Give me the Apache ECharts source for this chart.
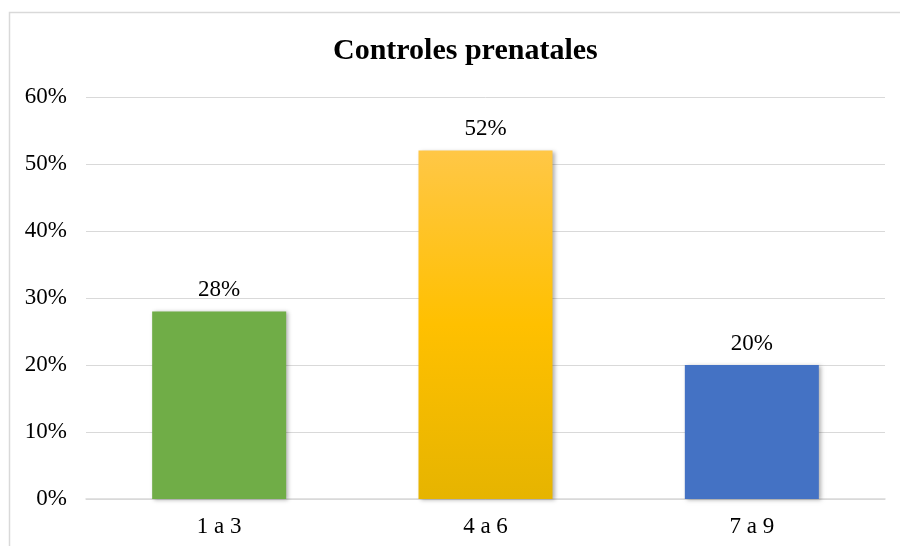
<!DOCTYPE html>
<html>
<head>
<meta charset="utf-8">
<script src="https://cdn.jsdelivr.net/npm/echarts@6/dist/echarts.min.js"></script>
<style>
html,body{margin:0;padding:0;background:#fff;}
#chart{width:900px;height:546px;}
</style>
</head>
<body>
<div id="chart"></div>
<script>
var categories = ['1 a 3', '4 a 6', '7 a 9'];
var values = [0.28, 0.52, 0.20];
var yTicks = [0, 0.1, 0.2, 0.3, 0.4, 0.5, 0.6];
var titleText = 'Controles prenatales';

var serif = '"Liberation Serif", "Times New Roman", serif';
var colors = [
  '#70AD47',
  new echarts.graphic.LinearGradient(0, 0, 0, 1, [
    {offset: 0, color: '#FFC746'},
    {offset: 0.5, color: '#FFC000'},
    {offset: 1, color: '#E6B400'}
  ]),
  '#4472C4'
];

var chart = echarts.init(document.getElementById('chart'), null, {renderer: 'canvas'});
chart.setOption({
  animation: false,
  backgroundColor: '#fff',
  graphic: [{
    type: 'rect',
    shape: {x: 9.5, y: 12.5, width: 1000, height: 1000},
    style: {fill: 'none', stroke: '#d9d9d9', lineWidth: 1.5},
    silent: true,
    z: -10
  }],
  title: {
    text: titleText,
    left: 328,
    top: 31,
    textStyle: {fontFamily: serif, fontWeight: 'bold', fontSize: 30, color: '#000'}
  },
  grid: {left: 86, right: 15, top: 97, bottom: 47, containLabel: false},
  xAxis: {
    type: 'category',
    data: categories,
    axisLine: {show: true, lineStyle: {color: '#d9d9d9', width: 1.5}},
    axisTick: {show: false},
    axisLabel: {fontFamily: serif, fontSize: 23, color: '#000', margin: 16}
  },
  yAxis: {
    type: 'value',
    min: yTicks[0],
    max: yTicks[yTicks.length - 1],
    interval: 0.1,
    axisLine: {show: false},
    axisTick: {show: false},
    splitLine: {lineStyle: {color: '#d9d9d9', width: 1}},
    axisLabel: {
      fontFamily: serif, fontSize: 23, color: '#000', margin: 19,
      formatter: function (v) { return Math.round(v * 100) + '%'; }
    }
  },
  series: [{
    type: 'bar',
    barWidth: 134,
    data: values.map(function (v, i) {
      return {value: v, itemStyle: {color: colors[i]}};
    }),
    itemStyle: {
      shadowColor: 'rgba(0,0,0,0.3)',
      shadowBlur: 4,
      shadowOffsetX: 2,
      shadowOffsetY: 1
    },
    label: {
      show: true,
      position: 'top',
      distance: 10,
      fontFamily: serif,
      fontSize: 23,
      color: '#000',
      formatter: function (p) { return Math.round(p.value * 100) + '%'; }
    }
  }]
});
</script>
</body>
</html>
